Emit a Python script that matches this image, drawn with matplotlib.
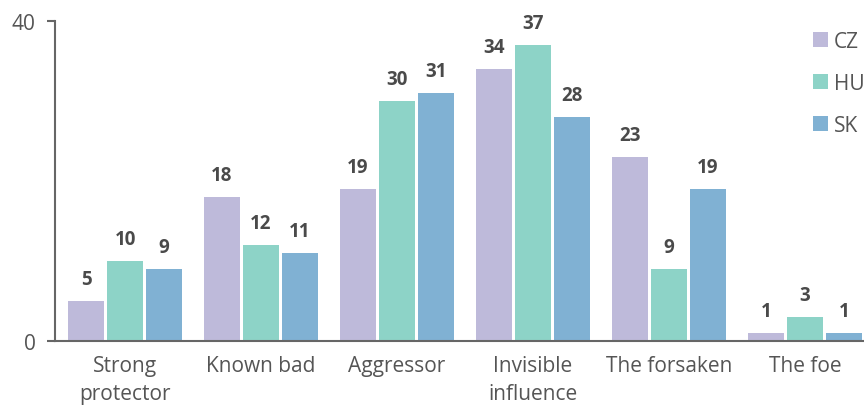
import numpy as np
import matplotlib.pyplot as plt

# data
categories = ['Strong\nprotector', 'Known bad', 'Aggressor', 'Invisible\ninfluence', 'The forsaken', 'The foe']
cz = [5, 18, 19, 34, 23, 1]
hu = [10, 12, 30, 37, 9, 3]
sk = [9, 11, 31, 28, 19, 1]
series = [('CZ', cz, '#bebada'), ('HU', hu, '#8dd3c7'), ('SK', sk, '#80b1d3')]

plt.rcParams['font.family'] = ['Open Sans', 'DejaVu Sans']

fig = plt.figure(figsize=(8.64, 4.06), dpi=100)
ax = fig.add_axes([0.0637, 0.1576, 0.9363, 0.7882])

x = np.arange(len(categories))
w = 0.265
step = 0.287
for i, (name, vals, col) in enumerate(series):
    bars = ax.bar(x + (i - 1) * step, vals, w, color=col, label=name)
    for rect in bars:
        h = rect.get_height()
        ax.annotate(str(int(h)), (rect.get_x() + rect.get_width() / 2, h),
                    xytext=(0, 9), textcoords='offset points',
                    ha='center', va='bottom', fontsize=13.5, fontweight='bold', color='#4a4a4a')

ax.set_xlim(-0.515, 5.434)
ax.set_ylim(0, 40)
ax.set_yticks([0, 40])
ax.set_xticks(x)
ax.set_xticklabels(categories, linespacing=1.45)
ax.tick_params(axis='y', length=6, width=1.5, color='#666666', labelsize=15, labelcolor='#555555', pad=8)
ax.tick_params(axis='x', length=0, labelsize=15, labelcolor='#555555', pad=10)
for s in ['top', 'right']:
    ax.spines[s].set_visible(False)
for s in ['left', 'bottom']:
    ax.spines[s].set_color('#666666')
    ax.spines[s].set_linewidth(1.5)

fig.legend(loc='upper left', bbox_to_anchor=(0.929, 0.947), frameon=False, fontsize=15,
           handlelength=0.7, handleheight=0.7, handletextpad=0.3, labelspacing=1.0,
           borderpad=0, labelcolor='#555555')

fig.savefig('out.png', dpi=100)
